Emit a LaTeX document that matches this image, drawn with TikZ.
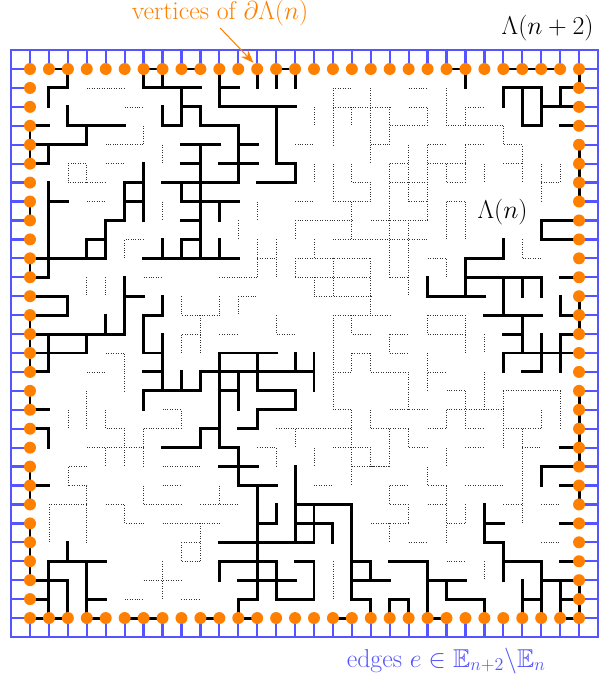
\RequirePackage{fix-cm}
\documentclass[tikz,border=0pt]{standalone}
\usepackage{amssymb}
\usetikzlibrary{arrows.meta}
\definecolor{myblue}{RGB}{85,85,255}
\definecolor{myorange}{RGB}{255,128,0}
\begin{document}
\begin{tikzpicture}[x=0.5cm,y=-0.5cm,
  bk/.style={line width=2.2pt, line cap=rect, line join=miter, black},
  dt/.style={line width=0.55pt, dash pattern=on 0.55pt off 1.3pt, black!80},
  blu/.style={line width=1.7pt, line cap=rect, myblue},
  vtx/.style={fill=myorange},
  lbl/.style={font=\fontsize{19.4}{23}\selectfont, inner sep=0pt}]
\useasboundingbox (-1.585,-3.645) rectangle (30.005,32.22);

% blue outer edges
\draw[blu] (-1,-1) rectangle (30,30);
\foreach \k in {0,...,29}{
  \draw[blu] (\k,-1) -- (\k,0);
  \draw[blu] (\k,29) -- (\k,30);
  \draw[blu] (-1,\k) -- (0,\k);
  \draw[blu] (29,\k) -- (30,\k);
}

% dotted (closed edges / other clusters)
\draw[dt]
 (3,1)--(5,1) (5,2)--(6,2) (6,3)--(6,4)--(4,4) (7,4)--(7,5) (4,5)--(5,5)
 (3,6)--(3,5)--(2,5)--(2,6)--(4,6)
 (3,7)--(4,7) (7,7)--(7,8) (6,9)--(5,9)--(5,10) (6,11)--(7,11)
 (3,11)--(3,12) (4,11)--(4,12) (8,12)--(8,13)--(10,13) (9,13)--(9,15)
 (9,14)--(8,14)--(8,15) (4,15)--(5,15)--(5,17) (3,16)--(4,16)
 (3,17)--(3,19) (2,18)--(2,19) (4,18)--(4,19)--(5,19)--(5,21)
 (7,18)--(8,18)--(8,19) (6,19)--(8,19) (6,19)--(6,21) (3,20)--(6,20) (4,20)--(4,21)
 (3,21)--(2,21)--(2,22)--(3,22)--(3,25) (7,21)--(9,21) (7,22)--(8,22) (6,22)--(6,23)
 (1,23)--(3,23) (1,23)--(1,25) (4,23)--(5,23)--(5,24)--(6,24) (6,23)--(8,23)
 (9,23)--(11,23) (10,22)--(10,23) (7,24)--(10,24) (9,24)--(9,26)
 (8,25)--(9,25) (8,25)--(8,26)--(9,26) (7,26)--(7,28) (6,27)--(8,27)
 (5,28)--(6,28) (8,28)--(9,28)
 (16,1)--(17,1) (16,1)--(16,4) (18,1)--(18,5) (16,2)--(19,2) (17,2)--(17,3)
 (19,2)--(19,4)--(18,4) (19,3)--(21,3) (15,2)--(15,3) (14,4)--(15,4)
 (20,4)--(20,7) (19,5)--(20,5) (19,5)--(19,11) (19,6)--(21,6)
 (15,5)--(15,6) (16,5)--(16,7) (17,5)--(17,6)--(18,6)--(18,7) (16,7)--(18,7)
 (14,7)--(15,7) (17,7)--(17,9) (14,8)--(17,8) (14,8)--(14,9) (12,7)--(12,8)
 (11,8)--(11,9) (18,8)--(21,8) (16,9)--(21,9) (12,9)--(12,11) (13,9)--(13,11)
 (12,10)--(13,10) (15,9)--(15,10) (14,10)--(18,10) (14,10)--(14,11)
 (16,10)--(16,12) (14,11)--(18,11) (18,10)--(18,12) (15,12)--(18,12)
 (15,11)--(15,12) (19,11)--(20,11) (10,11)--(12,11) (10,12)--(10,13)
 (11,12)--(12,12) (11,12)--(11,13)
 (20,1)--(21,1) (20,2)--(21,2)--(21,3) (22,1)--(22,3)--(25,3) (23,2)--(24,2)
 (23,2)--(23,3) (25,3)--(25,4)--(26,4)--(26,6) (25,5)--(26,5)
 (21,4)--(22,4) (21,4)--(21,8) (21,5)--(23,5) (23,4)--(24,4) (23,4)--(23,6)
 (22,5)--(22,6)--(23,6) (24,5)--(24,6) (27,5)--(27,7) (27,6)--(28,6) (28,5)--(28,6)
 (20,7)--(21,7) (22,7)--(23,7) (22,7)--(22,9) (23,7)--(23,9) (20,8)--(20,12)
 (21,10)--(22,10)--(22,11) (26,9)--(26,10)--(27,10)
 (21,13)--(23,13) (21,13)--(21,14) (21,14)--(23,14) (23,13)--(23,15)
 (19,14)--(20,14) (19,15)--(20,15) (24,14)--(24,15) (21,15)--(21,17) (21,16)--(22,16)
 (10,14)--(11,14) (13,13)--(13,14)--(14,14)
 (16,13)--(16,18) (16,13)--(19,13) (17,13)--(17,14)--(18,14) (18,12)--(18,13)
 (17,15)--(18,15) (17,15)--(17,16) (18,15)--(18,16) (16,16)--(17,16)
 (18,16)--(20,16) (19,14)--(19,15) (20,16)--(20,18) (24,16)--(24,18)
 (22,17)--(23,17) (23,17)--(23,19) (25,17)--(28,17) (25,17)--(25,20)
 (28,17)--(28,19) (27,18)--(27,19) (19,18)--(21,18) (16,18)--(17,18)
 (17,18)--(17,22) (18,18)--(18,19) (22,18)--(25,18) (22,18)--(22,19)
 (18,19)--(20,19) (21,19)--(22,19) (23,19)--(24,19) (25,19)--(27,19)
 (26,19)--(26,24) (19,19)--(19,21) (20,19)--(20,20)--(21,20) (22,20)--(22,21)
 (23,20)--(24,20) (26,20)--(27,20) (18,21)--(19,21)
 (13,19)--(17,19) (14,19)--(14,20) (12,20)--(13,20)--(13,21) (15,20)--(15,21)
 (16,20)--(18,20)--(18,21) (17,21)--(19,21) (15,22)--(16,22)
 (19,22)--(20,22) (19,22)--(19,23)--(20,23) (20,23)--(20,24) (18,24)--(20,24)
 (19,24)--(19,25) (20,25)--(21,25) (21,21)--(21,22)--(22,22) (22,22)--(22,25)
 (22,24)--(23,24) (23,23)--(23,24) (21,23)--(22,23) (23,22)--(25,22)
 (25,23)--(26,23) (27,23)--(28,23) (27,25)--(28,25) (22,26)--(23,26)
 (24,26)--(24,27) (16,26)--(16,28);

% black (open edges connected to the boundary)
\draw[bk]
 (1,0)--(2,0)--(2,1)--(1,1)--(1,2)
 (6,1)--(6,0)--(7,0)--(7,1) (6,1)--(9,1) (8,0)--(9,0)
 (8,1)--(8,3) (8,2)--(9,2)--(9,3) (7,2)--(7,3)--(8,3)
 (9,3)--(11,3)--(11,6)
 (0,3)--(0,5) (0,3)--(1,3) (0,4)--(3,4)--(3,3) (1,4)--(1,5) (0,5)--(1,5)
 (2,2)--(2,3)--(5,3)
 (1,6)--(1,11) (1,7)--(2,7) (0,7)--(0,8) (0,10)--(0,11)--(1,11) (0,10)--(4,10)
 (3,10)--(3,9)--(4,9) (4,10)--(4,8)--(5,8) (5,8)--(5,6)--(6,6) (5,7)--(6,7) (6,5)--(6,8)
 (8,4)--(10,4) (9,4)--(9,10) (11,4)--(12,4) (8,5)--(9,5) (10,5)--(12,5)
 (7,6)--(11,6) (8,6)--(8,7)--(11,7) (10,7)--(10,8) (8,8)--(9,8)
 (8,10)--(8,9)--(9,9) (7,9)--(7,10) (10,9)--(10,10) (6,10)--(11,10)
 (10,0)--(10,2) (10,1)--(11,1) (10,2)--(14,2) (13,2)--(13,5)--(14,5)--(14,6)--(12,6)
 (12,0)--(12,1) (13,1)--(13,0)--(14,0)--(14,1)
 (22,0)--(23,0)--(23,1) (25,0)--(28,0) (29,0)--(29,1)
 (25,2)--(25,1)--(27,1) (26,1)--(26,3)--(27,3)--(27,1) (27,2)--(29,2)
 (28,2)--(28,1)--(29,1) (28,3)--(29,3) (29,4)--(29,7)
 (29,8)--(27,8)--(27,9)--(29,9) (28,11)--(29,11)
 (25,9)--(25,10)--(23,10)--(23,12) (21,11)--(21,12)--(24,12) (23,11)--(27,11)
 (26,11)--(26,12) (27,11)--(27,12) (25,11)--(25,13) (24,13)--(27,13)
 (26,13)--(26,15) (25,14)--(26,14) (25,16)--(25,15)--(29,15)
 (27,14)--(27,16)--(26,16) (29,14)--(28,14)--(28,16) (28,12)--(28,13)--(29,13)
 (29,12)--(29,14) (29,17)--(29,21) (28,20)--(29,20) (27,22)--(27,21)--(29,21)
 (28,22)--(29,22)--(29,23)
 (24,23)--(24,25)--(25,25)--(25,27) (24,24)--(25,24) (25,26)--(27,26)--(27,29)
 (27,27)--(29,27) (26,29)--(26,27) (26,28)--(27,28) (28,29)--(28,27) (28,28)--(29,28)
 (29,27)--(29,29)--(28,29) (28,24)--(29,24) (28,26)--(29,26)
 (19,26)--(21,26)--(21,29)--(22,29) (21,27)--(23,27) (22,27)--(22,28)--(24,28)--(24,29)
 (19,29)--(19,28)--(20,28)--(20,29)
 (9,29)--(10,29) (12,29)--(11,29)--(11,28)--(12,28) (12,22)--(12,28)
 (11,20)--(11,22)--(13,22) (13,23)--(13,24)--(12,24) (10,25)--(15,25)
 (14,21)--(14,25) (14,23)--(17,23) (15,23)--(15,25) (14,24)--(16,24)--(16,25)
 (10,27)--(10,26)--(13,26) (13,26)--(13,28)--(15,28)--(15,26)--(14,26) (11,27)--(14,27)
 (17,23)--(17,28)--(18,28)--(18,29) (17,26)--(18,26)--(18,27) (17,27)--(19,27)
 (16,29)--(17,29)
 (10,15)--(13,15) (10,15)--(10,20) (12,15)--(12,17)--(14,17)--(14,18)--(12,18)--(12,19)--(11,19)
 (9,17)--(9,16)--(15,16) (14,15)--(14,16) (15,15)--(15,17) (11,16)--(11,18) (10,17)--(11,17)
 (10,19)--(9,19)--(9,20)--(7,20) (10,20)--(11,20) (10,21)--(12,21)
 (0,12)--(2,12)--(2,13)--(0,13) (0,13)--(0,16)--(1,16) (0,14)--(5,14) (4,13)--(4,14)
 (5,11)--(5,14) (5,12)--(6,12) (0,15)--(3,15)--(3,14) (1,14)--(1,16)
 (7,12)--(7,13)--(6,13)--(6,15)--(7,15) (7,14)--(7,17) (6,16)--(7,16)
 (6,18)--(6,17)--(9,17) (8,16)--(8,17)
 (0,17)--(0,18)--(1,18) (0,19)--(1,19)--(1,20) (0,21)--(0,23) (0,22)--(1,22)
 (0,24)--(0,27)--(2,27)--(2,29) (0,28)--(1,28) (1,29)--(1,26)--(4,26) (2,25)--(2,26)
 (3,29)--(3,26) (3,28)--(4,28) (0,29)--(2,29) (3,29)--(4,29) (5,29)--(7,29);

% vertices of the inner boundary
\foreach \k in {0,...,29}{
  \fill[vtx] (\k,0) circle[radius=0.158cm];
  \fill[vtx] (\k,29) circle[radius=0.158cm];
}
\foreach \k in {1,...,28}{
  \fill[vtx] (0,\k) circle[radius=0.158cm];
  \fill[vtx] (29,\k) circle[radius=0.158cm];
}

% labels
\node[lbl, text=myorange, anchor=base] (vlab) at (10.04,-2.62) {vertices of $\partial\Lambda(n)$};
\node[lbl, anchor=base] (biglab) at (27.34,-1.8) {$\Lambda(n+2)$};
\node[lbl, anchor=base] (smalllab) at (24.96,7.89) {$\Lambda(n)$};
\node[lbl, text=myblue, anchor=base] (elab) at (21.98,31.59) {edges $e\in\mathbb{E}_{n+2}\backslash\mathbb{E}_n$};
\coordinate (arrs) at (10.04,-2.17);
\coordinate (arrt) at (11.80,-0.33);
\draw[myorange, line width=0.8pt, -{Stealth[length=3.4mm,width=2.6mm]}] (arrs) -- (arrt);
\end{tikzpicture}
\end{document}
